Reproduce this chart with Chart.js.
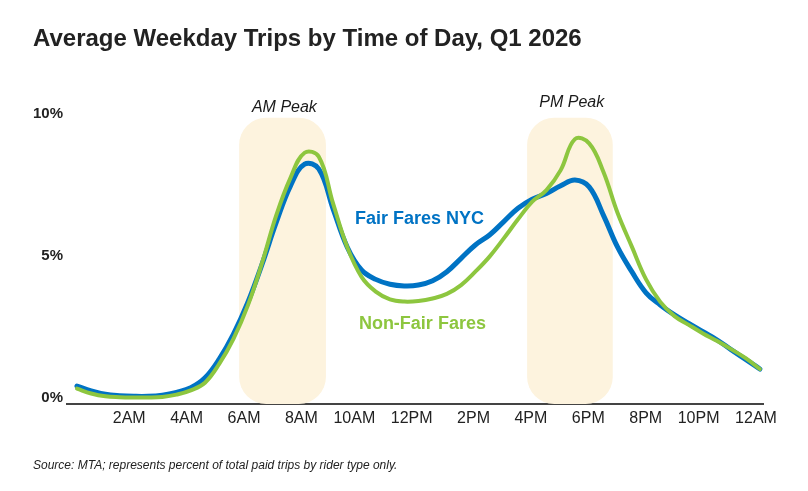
<!DOCTYPE html>
<html>
<head>
<meta charset="utf-8">
<script src="https://cdn.jsdelivr.net/npm/chart.js@4.4.1/dist/chart.umd.min.js"></script>
<style>
html,body{margin:0;padding:0;background:#fff;}
#wrap{width:808px;height:491px;position:relative;}
</style>
</head>
<body>
<div id="wrap"><canvas id="c" width="808" height="491"></canvas></div>
<script>
// ---- data ----
const hours = [0,0.5,1,1.5,2,2.5,3,3.5,4,4.5,5,5.5,6,6.5,7,7.5,8,8.5,9,9.5,10,10.5,11,11.5,12,12.5,13,13.5,14,14.5,15,15.5,16,16.5,17,17.5,18,18.5,19,19.5,20,20.5,21,21.5,22,22.5,23,23.5,24];
const fairFaresNYC = [0.42,0.25,0.13,0.08,0.06,0.06,0.10,0.20,0.36,
  0.71,1.37,2.25,3.35,4.69,6.16,7.45,8.22,
  8.05,6.65,5.30,4.50,4.17,4.00,3.94,3.97,
  4.12,4.44,4.91,5.38,5.73,6.20,6.67,6.99,
  7.19,7.46,7.66,7.42,6.43,5.30,4.44,3.70,
  3.27,2.92,2.62,2.33,2.04,1.69,1.36,1.02];
const nonFairFares = [0.33,0.16,0.06,0.03,0.02,0.02,0.04,0.12,0.27,
  0.54,1.20,2.08,3.24,4.73,6.41,7.73,8.62,
  8.48,6.84,5.30,4.26,3.74,3.47,3.39,3.41,
  3.50,3.66,3.97,4.44,4.97,5.61,6.28,6.90,
  7.31,8.01,9.10,8.95,7.95,6.50,5.32,4.17,
  3.38,2.88,2.57,2.27,2.00,1.71,1.40,1.02];
const seriesNames = ['Fair Fares NYC','Non-Fair Fares'];
const xTickValues = [2,4,6,8,10,12,14,16,18,20,22,24];
const xTickLabels = ['2AM','4AM','6AM','8AM','10AM','12PM','2PM','4PM','6PM','8PM','10PM','12AM'];
const yTickValues = [0,5,10];
const peakNames = ['AM Peak','PM Peak'];
const peakStart = [5.70, 15.82];
const peakEnd = [8.75, 18.83];
const peakTop = 9.85;

// ---- style / layout ----
const FONT = '"Liberation Sans", Arial, Helvetica, sans-serif';
const BLUE = '#0073C4';
const GREEN = '#8DC63F';
const PEAK_FILL = '#FDF3DE';
const peakLabelPos = [[7.29,10.06],[17.39,10.22]];
const seriesLabelPos = [[12.04,6.10],[12.14,2.43]];

const annotate = {
  id: 'annotate',
  beforeDatasetsDraw(chart) {
    const {ctx, chartArea, scales} = chart;
    const x = scales.x, y = scales.y;
    ctx.save();
    ctx.fillStyle = PEAK_FILL;
    for (let i = 0; i < peakStart.length; i++) {
      const l = x.getPixelForValue(peakStart[i]);
      const r = x.getPixelForValue(peakEnd[i]);
      const t = y.getPixelForValue(peakTop);
      const b = chartArea.bottom;
      ctx.beginPath();
      ctx.roundRect(l, t, r - l, b - t, 27);
      ctx.fill();
    }
    ctx.restore();
  },
  afterDatasetsDraw(chart) {
    const {ctx, scales} = chart;
    const x = scales.x, y = scales.y;
    ctx.save();
    ctx.textAlign = 'center';
    ctx.textBaseline = 'alphabetic';
    ctx.fillStyle = '#1a1a1a';
    ctx.font = 'italic 16px ' + FONT;
    for (let i = 0; i < peakNames.length; i++) {
      ctx.fillText(peakNames[i], x.getPixelForValue(peakLabelPos[i][0]), y.getPixelForValue(peakLabelPos[i][1]));
    }
    ctx.font = 'bold 18px ' + FONT;
    const cols = [BLUE, GREEN];
    for (let i = 0; i < seriesNames.length; i++) {
      ctx.fillStyle = cols[i];
      ctx.fillText(seriesNames[i], x.getPixelForValue(seriesLabelPos[i][0]), y.getPixelForValue(seriesLabelPos[i][1]));
    }
    ctx.restore();
  }
};

const toPoints = arr => hours.map((h, i) => ({x: h, y: arr[i]}));

new Chart(document.getElementById('c'), {
  type: 'line',
  data: {
    datasets: [
      {label: seriesNames[1], data: toPoints(nonFairFares), borderColor: GREEN, borderWidth: 4,
       pointRadius: 0, tension: 0.4, borderCapStyle: 'round', borderJoinStyle: 'round', fill: false},
      {label: seriesNames[0], data: toPoints(fairFaresNYC), borderColor: BLUE, borderWidth: 5,
       pointRadius: 0, tension: 0.4, borderCapStyle: 'round', borderJoinStyle: 'round', fill: false}
    ]
  },
  options: {
    responsive: false,
    animation: false,
    events: [],
    layout: {padding: {left: 33, right: 45, top: 0, bottom: 0}},
    plugins: {
      legend: {display: false},
      tooltip: {enabled: false},
      title: {
        display: true,
        text: 'Average Weekday Trips by Time of Day, Q1 2026',
        align: 'start',
        color: '#222222',
        font: {family: FONT, size: 24, weight: 'bold'},
        padding: {top: 24.6, bottom: 60.1}
      },
      subtitle: {
        display: true,
        position: 'bottom',
        text: 'Source: MTA; represents percent of total paid trips by rider type only.',
        align: 'start',
        color: '#222222',
        font: {family: FONT, size: 12, style: 'italic'},
        padding: {top: 0, bottom: 18.6}
      }
    },
    scales: {
      x: {
        type: 'linear',
        min: -0.35,
        max: 24.11,
        display: false
      },
      x2: {
        type: 'linear',
        position: 'bottom',
        min: -0.046,
        max: 24.213,
        grid: {display: false, drawTicks: false},
        border: {display: true, color: '#444444', width: 2},
        afterBuildTicks: s => { s.ticks = xTickValues.map(v => ({value: v})); },
        afterFit: s => { s.height = 54; },
        ticks: {
          autoSkip: false,
          maxRotation: 0,
          minRotation: 0,
          align: 'end',
          labelOffset: 20,
          padding: 5,
          color: '#222222',
          font: {family: FONT, size: 16},
          callback: (v) => xTickLabels[xTickValues.indexOf(v)]
        }
      },
      y: {
        type: 'linear',
        min: -0.21,
        max: 10,
        grid: {display: false, drawTicks: false},
        border: {display: false},
        afterBuildTicks: s => { s.ticks = yTickValues.map(v => ({value: v})); },
        afterFit: s => { s.width = 34; },
        ticks: {
          padding: 4,
          color: '#222222',
          font: {family: FONT, size: 15, weight: 'bold'},
          callback: v => v + '%'
        }
      }
    }
  },
  plugins: [annotate]
});
</script>
</body>
</html>
